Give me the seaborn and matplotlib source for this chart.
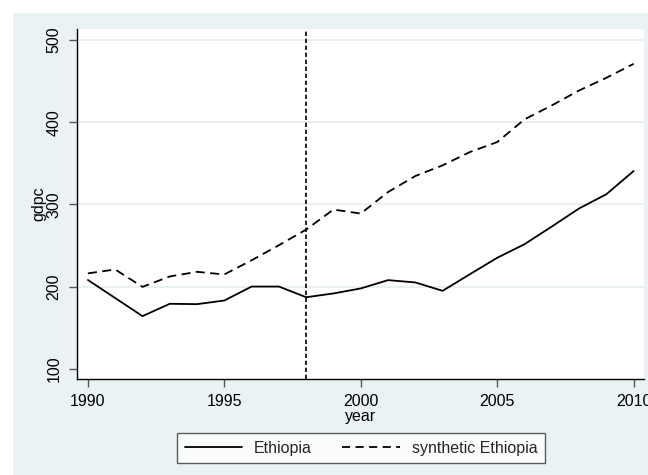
import matplotlib
matplotlib.use("Agg")
import matplotlib.pyplot as plt
from matplotlib.patches import Rectangle
import numpy as np
import pandas as pd
import seaborn as sns

# GDP per capita: Ethiopia vs. its synthetic control, 1990-2010
years = list(range(1990, 2011))
ethiopia = [208, 186, 164, 179, 178.6, 183, 200, 200, 187, 191.6, 197.7,
            207.8, 205, 194.8, 215, 235, 251.5, 273, 295, 312.3, 340.6]
synthetic = [216, 220.8, 199.6, 212.3, 217.9, 214.7, 232, 250.3, 269.4, 293.7, 288.8,
             315, 334.5, 347.5, 363.7, 375.8, 403.4, 420.4, 438.6, 454, 471]
series_names = ["Ethiopia", "synthetic Ethiopia"]
treatment_year = 1998
y_ticks = [100, 200, 300, 400, 500]
x_ticks = [1990, 1995, 2000, 2005, 2010]

df = pd.DataFrame({
    "year": years * 2,
    "gdpc": ethiopia + synthetic,
    "unit": [series_names[0]] * len(years) + [series_names[1]] * len(years),
})

sns.set_theme(style="white")
plt.rcParams["font.family"] = ["Liberation Sans", "DejaVu Sans"]

bg = "#EAF2F3"
fig = plt.figure(figsize=(6.48, 4.75), dpi=100, facecolor="white")
fig.patches.append(Rectangle((13 / 648, 0), 1, 1 - 13 / 475, transform=fig.transFigure,
                             facecolor=bg, edgecolor="none", zorder=-10))
ax = fig.add_axes([77 / 648, 1 - 379 / 475, (644 - 77) / 648, (379 - 29) / 475])
ax.set_facecolor("white")

sns.lineplot(data=df, x="year", y="gdpc", style="unit", style_order=series_names,
             dashes={series_names[0]: "", series_names[1]: (5, 3)},
             color="black", lw=1.3, ax=ax, legend=False)

ax.axvline(treatment_year, color="black", lw=1.2, ls=(0, (2.6, 1.6)), zorder=3)

ax.set_xlim(1989.60, 2010.38)
ax.set_ylim(87.5, 513.4)
ax.set_xticks(x_ticks)
ax.set_yticks(y_ticks)
ax.set_xticklabels([str(t) for t in x_ticks])
ax.set_yticklabels([str(t) for t in y_ticks], rotation=90, va="center")

ax.grid(axis="y", color="#E4EEF1", lw=1.2)
ax.yaxis.get_gridlines()[0].set_visible(False)
ax.set_axisbelow(True)

for side in ["top", "right"]:
    ax.spines[side].set_visible(False)
for side in ["left", "bottom"]:
    ax.spines[side].set_color("black")
    ax.spines[side].set_linewidth(1.0)

ax.tick_params(axis="both", which="major", length=6, width=1.0, color="#555555",
               labelsize=11.5, labelcolor="black", direction="out", pad=5,
               bottom=True, left=True)
ax.set_xlabel("year", fontsize=11.5, color="black", labelpad=0)
ax.set_ylabel("gdpc", fontsize=11.5, color="black", labelpad=0)

handles = [plt.Line2D([], [], color="black", lw=1.3),
           plt.Line2D([], [], color="black", lw=1.3, dashes=(4.5, 3))]
leg = fig.legend(handles, series_names, loc="center", ncol=2,
                 bbox_to_anchor=(361 / 648, 1 - 448 / 475), frameon=True, fancybox=False,
                 fontsize=11.5, handlelength=3.6, handletextpad=0.75, columnspacing=1.9,
                 borderpad=0.5)
leg.get_frame().set_edgecolor("#333333")
leg.get_frame().set_linewidth(1.0)
leg.get_frame().set_facecolor("white")

fig.savefig("out.png", dpi=100, facecolor="white")
